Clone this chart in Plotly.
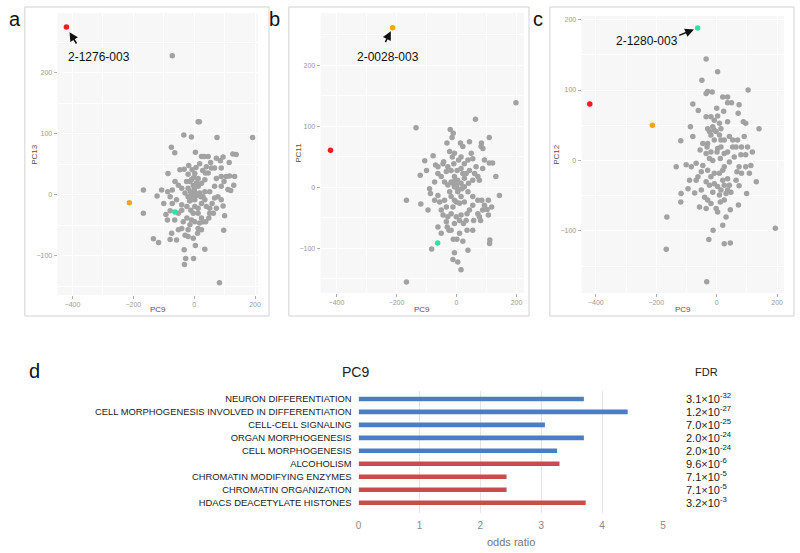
import plotly.graph_objects as go

W, H = 800, 553

# ---------------- data ----------------
# highlighted samples (same PC9 across panels)
hl_names = ["2-1276-003", "2-0028-003", "2-1280-003"]
hl_colors = ["#ee1c1c", "#f4a51f", "#2ae3a8"]
hl_pc9 = [-420, -213, -63]
hl_pc13 = [275, -13, -28]
hl_pc11 = [61, 262, -91]
hl_pc12 = [80, 50, 188]

# panel a: PC9 vs PC13 (other samples)
a_points = [(-72,228),(13,120),(17,120),(-34,98),(-9,95),(75,94),(192,94),(-75,78),(-64,69),(-86,35),
(-167,8),(-167,-30),(-122,-2),(-100,-14),(-107,8),(-134,-72),(-117,-78),(-88,-41),(-93,-32),(-79,-73),
(-74,-63),(-58,-74),(-28,-104),(-32,-114),(-2,-104),(4,-83),(35,-89),(83,-144),(97,-58),(100,-34),
(115,53),(127,67),(138,66),(95,62),(86,56),(73,60),(89,44),(54,53),(24,63),(33,63),(18,51),(4,70),
(105,30),(116,31),(98,22),(111,9),(89,14),(78,-3),(67,-5),(89,-8),(59,-14),(51,-22),(73,-22),(63,-30),
(48,-38),(29,-44),(24,-57),(11,-63),(-3,-71),(-20,-68),(-30,-66),(-41,-55),(-52,-57),(-36,-44),(-20,-57),
(24,-38),(13,-30),(35,-8),(24,-14),(13,-22),(-3,-30),(-11,-25),(-24,-19),(-41,-16),(-58,-8),(-72,-14),
(-79,-26),(-64,-41),(-52,-30),(-41,-25),(-24,-38),(-20,11),(-9,3),(2,5),(13,14),(24,19),(35,25),(46,36),
(40,46),(57,44),(73,27),(89,30),(67,14),(51,5),(35,5),(22,-3),(2,-8),(-9,-8),(-20,-3),(-30,3),(-41,11),
(-52,16),(-63,22),(-72,8),(-79,-3),(-87,5),(-47,41),(-33,42),(-20,34),(-7,41),(2,35),(13,27),(-9,25),
(-3,16),(-14,22),(-25,22),(8,20),(18,3),(29,-3),(40,-19),(2,-19),(-9,-41),(2,-44),(18,-46),(-14,-49),
(13,-55),(51,-30),(38,-44),(95,-18),(120,7),(130,16),(133,30),(37,36),(67,44),(46,63),(-33,-90),
(-5,0),(5,-2),(-12,5),(0,10),(-15,-10),(10,0),(-2,28),(6,45),(-18,48),(28,40)]

# panel b: PC9 vs PC11
b_points = [(198,139),(63,112),(-135,98),(-21,95),(-11,89),(-15,82),(-32,73),(13,73),(43,75),(83,73),
(109,82),(82,67),(88,64),(-78,52),(-106,44),(-70,37),(-62,34),(-100,28),(-121,20),(-43,42),(-29,34),
(-9,39),(7,45),(26,39),(38,45),(54,47),(65,34),(93,45),(109,40),(120,40),(131,18),(143,-13),(117,-32),
(102,-36),(106,-45),(111,-86),(110,-92),(38,-103),(21,-88),(1,-85),(-11,-85),(-7,-107),(4,-122),
(-12,-118),(15,-135),(-83,-101),(-167,-155),(-167,-21),(-119,-27),(-95,-37),(-90,-2),(-87,-10),
(-73,-21),(-62,-13),(-56,-24),(-40,-21),(-34,-32),(-51,-37),(-45,-45),(-29,-48),(-18,-43),(-1,-48),
(-34,-56),(-31,-65),(-62,-65),(-51,-75),(-25,-70),(-7,-59),(10,-54),(32,-54),(54,-70),(35,-70),(43,-37),
(54,-29),(71,-43),(80,-54),(87,-37),(93,-29),(106,-21),(71,-21),(54,-15),(38,-7),(26,1),(15,7),(4,12),
(-7,18),(-18,9),(-29,4),(-40,9),(-51,18),(-62,23),(-73,9),(-7,1),(4,-7),(15,-15),(26,-24),(10,-26),
(-7,-21),(-18,-15),(-23,-7),(-12,7),(-1,4),(21,23),(32,23),(43,28),(60,23),(76,12),(87,31),(71,18),
(54,12),(40,7),(26,15),(15,31),(2,28),(-18,28),(-34,26),(-45,39),(-14,50),(-7,56),(15,50),(-23,59),
(21,67),(49,56),(84,-21),(57,-54),(35,-43),(15,-45),(23,-59),(10,-75),(76,-48),(-18,-70),(-1,-24),
(-12,-32),(0,0),(8,-3),(-5,12),(18,-2)]

# panel c: PC9 vs PC12
c_points = [(-35,144),(3,126),(-49,114),(-35,95),(-30,98),(-15,97),(104,100),(20,90),(36,90),(36,82),
(49,82),(74,79),(-79,80),(-61,71),(0,74),(3,63),(23,70),(36,55),(71,67),(88,55),(96,53),(140,45),
(-87,48),(-79,34),(-119,28),(-30,45),(-24,41),(-13,48),(-8,43),(-19,36),(-2,41),(9,36),(14,29),(-8,29),
(-30,24),(-46,24),(-55,15),(-35,10),(-19,12),(3,17),(14,19),(25,10),(36,12),(53,29),(53,19),(64,19),
(82,19),(102,19),(80,8),(96,8),(118,12),(74,-9),(82,-18),(96,-9),(113,-7),(108,-18),(131,-30),(99,-47),
(74,-36),(64,-28),(42,-35),(36,-42),(31,-47),(47,-45),(25,-9),(20,-14),(9,-18),(-8,-18),(-19,-23),
(-30,-14),(-46,-7),(-68,-4),(-84,-9),(-101,-6),(-134,-9),(-51,-16),(-62,-23),(-68,-28),(-90,-28),
(-95,-40),(-118,-47),(-51,-42),(-73,-46),(-40,-52),(-30,-56),(-57,-66),(-35,-68),(-19,-61),(-2,-68),
(3,-73),(9,-49),(14,-42),(25,-35),(36,-26),(20,-28),(3,-37),(-13,-45),(-24,-35),(-35,-30),(-8,-33),
(12,-59),(25,-56),(45,-70),(72,-63),(31,-80),(20,-92),(-12,-99),(-26,-112),(25,-118),(45,-117),
(-165,-80),(-167,-126),(-33,-172),(194,-96),(-119,-59),(1,12),(12,3),(-13,0),(-24,3),(58,5),(42,-2),
(67,-16),(69,29),(-8,57),(9,53),(14,45),(-32,19),(25,29),(42,34),(-35,62),(-19,62),(91,34)]

# panel d: enrichment
terms = ["NEURON DIFFERENTIATION", "CELL MORPHOGENESIS INVOLVED IN DIFFERENTIATION",
         "CELL-CELL SIGNALING", "ORGAN MORPHOGENESIS", "CELL MORPHOGENESIS", "ALCOHOLISM",
         "CHROMATIN MODIFYING ENZYMES", "CHROMATIN ORGANIZATION", "HDACS DEACETYLATE HISTONES"]
odds_ratio = [3.70, 4.42, 3.06, 3.70, 3.26, 3.30, 2.43, 2.43, 3.73]
fdr_mant = ["3.1", "1.2", "7.0", "2.0", "2.0", "9.6", "7.1", "7.1", "3.2"]
fdr_exp = [-32, -27, -25, -24, -24, -6, -5, -5, -3]
direction = ["up"] * 5 + ["down"] * 4
dir_colors = {"up": "#4a7dc2", "down": "#c84c4c"}
odds_ticks = [0, 1, 2, 3, 4, 5]

# ---------------- helpers ----------------
def px(x):
    return x / W

def py(y):
    return 1 - y / H

GRAY = "#a2a2a2"
fig = go.Figure()

panels = [
    ("x", "y", a_points, hl_pc13),
    ("x2", "y2", b_points, hl_pc11),
    ("x3", "y3", c_points, hl_pc12),
]
for xa, ya, pts, hly in panels:
    fig.add_trace(go.Scatter(x=[p[0] for p in pts], y=[p[1] for p in pts], mode="markers",
                             marker=dict(size=5.5, color=GRAY), xaxis=xa, yaxis=ya,
                             hoverinfo="skip"))
    fig.add_trace(go.Scatter(x=hl_pc9, y=hly, mode="markers",
                             marker=dict(size=5.5, color=hl_colors), xaxis=xa, yaxis=ya,
                             hoverinfo="skip"))

fig.add_trace(go.Bar(x=odds_ratio, y=terms, orientation="h",
                     marker=dict(color=[dir_colors[d] for d in direction], line=dict(width=0)),
                     width=0.35, xaxis="x4", yaxis="y4"))

TICKFONT = dict(size=7, color="#9a9a9a", family="Arial")

def scat_x(dom, rng, anchor):
    return dict(domain=dom, range=rng, tick0=0, dtick=200, ticks="outside", ticklen=3,
                tickcolor="#b0b0b0", tickfont=TICKFONT,
                showgrid=True, gridcolor="#ffffff", gridwidth=1,
                minor=dict(dtick=100, showgrid=True, gridcolor="#ffffff", gridwidth=0.6),
                zeroline=False, showline=False, anchor=anchor)

def scat_y(dom, rng, anchor):
    return dict(domain=dom, range=rng, tick0=0, dtick=100, ticks="outside", ticklen=3,
                tickcolor="#b0b0b0", tickfont=TICKFONT,
                showgrid=True, gridcolor="#ffffff", gridwidth=1,
                minor=dict(dtick=50, showgrid=True, gridcolor="#ffffff", gridwidth=0.6),
                zeroline=False, showline=False, anchor=anchor)

xa1 = scat_x([px(55), px(257)], [-449, 210], "y")
ya1 = scat_y([py(295), py(13)], [-164, 298], "x")
xa2 = scat_x([px(320), px(525)], [-453, 225], "y2")
ya2 = scat_y([py(293), py(13)], [-173, 286], "x2")
xa3 = scat_x([px(583), px(787)], [-447, 223], "y3")
ya3 = scat_y([py(293), py(16)], [-188, 205], "x3")

xa4 = dict(domain=[px(358.3), px(665)], range=[0, 5], tickvals=odds_ticks, anchor="y4",
           showgrid=True, gridcolor="#e4e4e4", gridwidth=1, ticks="", zeroline=False,
           tickfont=dict(size=10, color="#8a8a8a", family="Arial"), showline=False,
           ticklabelstandoff=5)
ya4 = dict(domain=[py(512.8), py(390.9)], type="category", categoryorder="array",
           categoryarray=terms, autorange="reversed", anchor="x4", ticks="", showgrid=False,
           tickfont=dict(size=9.4, color="#222222", family="Arial"), ticklabelstandoff=6)

def ptext(txt, x, y, size, color, angle=0):
    return dict(text=txt, x=px(x), y=py(y), xref="paper", yref="paper", xanchor="center",
                yanchor="middle", showarrow=False, textangle=angle,
                font=dict(size=size, color=color, family="Arial"))

annotations = []
# panel letters
for txt, x, y in [("a", 12, 19), ("b", 274, 19), ("c", 539, 19), ("d", 32, 371)]:
    annotations.append(ptext(txt, x, y, 20, "#111"))
# axis titles of scatter panels
for txt, x, y, ang in [("PC9", 156, 309, 0), ("PC13", 32, 154, -90),
                       ("PC9", 422, 309, 0), ("PC11", 297, 153, -90),
                       ("PC9", 685, 309, 0), ("PC12", 558, 154, -90)]:
    annotations.append(ptext(txt, x, y, 8, "#555", ang))
# sample labels and arrows
lab_pos = [(96.5, 57), (387.5, 57), (648.5, 41)]
arrow_off = [(11, 18, 6), (-8, 16, 4), (-20, 8, 4)]
lab_y = [hl_pc13, hl_pc11, hl_pc12]
for i in range(3):
    xr, yr = ["x", "x2", "x3"][i], ["y", "y2", "y3"][i]
    annotations.append(ptext(hl_names[i], lab_pos[i][0], lab_pos[i][1], 12, "#111"))
    ax, ay, so = arrow_off[i]
    annotations.append(dict(text="", x=hl_pc9[i], y=lab_y[i][i], xref=xr, yref=yr,
                            showarrow=True, ax=ax, ay=ay, arrowhead=2, arrowsize=1.1,
                            arrowwidth=1.6, arrowcolor="#111", standoff=so))
# bar panel titles
annotations.append(ptext("PC9", 355, 372, 14, "#222"))
annotations.append(ptext("FDR", 709, 372, 11, "#222"))
annotations.append(ptext("odds ratio", 511.6, 542, 11, "#777"))
for t, m, e in zip(terms, fdr_mant, fdr_exp):
    annotations.append(dict(text=f"{m}×10<sup>{e}</sup>", x=px(686), y=t, xref="paper",
                            yref="y4", xanchor="left", yanchor="middle", showarrow=False,
                            yshift=1, font=dict(size=11, color="#222", family="Arial")))

shapes = []
for x0, x1 in [(22, 268), (288, 530), (551, 797)]:
    shapes.append(dict(type="rect", xref="paper", yref="paper", x0=px(x0), x1=px(x1),
                       y0=py(316), y1=py(7), line=dict(color="#d2d2d2", width=1),
                       fillcolor="rgba(0,0,0,0)", layer="below"))
for x0, x1, y0, y1 in [(55, 257, 295, 13), (320, 525, 293, 13), (583, 787, 293, 16)]:
    shapes.append(dict(type="rect", xref="paper", yref="paper", x0=px(x0), x1=px(x1),
                       y0=py(y0), y1=py(y1), line=dict(width=0), fillcolor="#f7f7f7",
                       layer="below"))

fig.update_layout(width=W, height=H, margin=dict(l=0, r=0, t=0, b=0),
                  paper_bgcolor="white", plot_bgcolor="rgba(0,0,0,0)", showlegend=False,
                  font=dict(family="Arial"),
                  xaxis=xa1, yaxis=ya1, xaxis2=xa2, yaxis2=ya2, xaxis3=xa3, yaxis3=ya3,
                  xaxis4=xa4, yaxis4=ya4, annotations=annotations, shapes=shapes)

fig.write_html("out.html", config={"displayModeBar": False},
               post_script="document.body.style.margin='0px';")
